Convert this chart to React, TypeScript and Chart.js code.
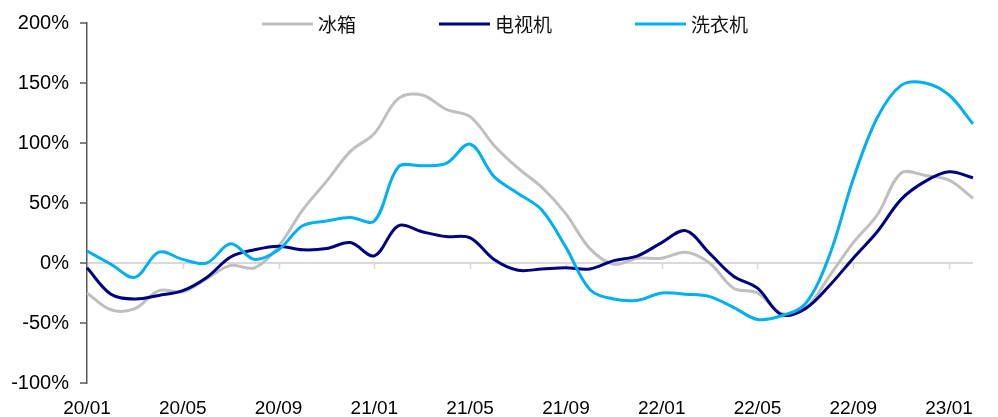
import { useEffect, useRef } from 'react';
import { Chart, registerables } from 'chart.js';

Chart.register(...registerables);

// Monthly categories, 2020/01 – 2023/02
const months = [
  '20/01', '20/02', '20/03', '20/04', '20/05', '20/06', '20/07', '20/08', '20/09', '20/10', '20/11', '20/12',
  '21/01', '21/02', '21/03', '21/04', '21/05', '21/06', '21/07', '21/08', '21/09', '21/10', '21/11', '21/12',
  '22/01', '22/02', '22/03', '22/04', '22/05', '22/06', '22/07', '22/08', '22/09', '22/10', '22/11', '22/12',
  '23/01', '23/02',
];

// Year-on-year change, %
const fridge = [
  -25, -39, -38, -23, -24, -13, -2, -4, 14, 44, 68, 93,
  108, 137, 140, 128, 122, 98, 79, 63, 41, 12, -1, 4,
  4, 9, 0, -21, -25, -42, -38, -11, 17, 40, 75, 73,
  69, 54,
];
const tv = [
  -4, -26, -30, -27, -23, -12, 5, 11, 14, 11, 12, 17,
  6, 31, 26, 22, 21, 3, -6, -5, -4, -5, 2, 6,
  17, 27, 8, -11, -21, -43, -38, -19, 4, 26, 53, 68,
  76, 71,
];
const washer = [
  10, -1, -12, 9, 3, 0, 16, 3, 11, 31, 35, 38,
  35, 80, 81, 83, 99, 72, 58, 44, 13, -22, -30, -31,
  -25, -26, -28, -37, -47, -44, -34, 6, 70, 121, 148, 150,
  140, 116,
];

const seriesNames = ['冰箱', '电视机', '洗衣机'];
const seriesColors = ['#BFBFBF', '#000080', '#00B0F0'];

const yMin = -100;
const yMax = 200;
const yStep = 50;
const labelEvery = 4;

const latinFont = '"Liberation Sans", Arial, sans-serif';
const cjkFont = '"Noto Sans CJK SC", sans-serif';

// Legend row drawn across the top of the plot
const topLegend = {
  id: 'topLegend',
  afterDraw(chart: any) {
    const ctx = chart.ctx as CanvasRenderingContext2D;
    const y = 24;
    const lineLen = 51;
    const gap = 5;
    const itemGap = 83;
    let x = 262;
    ctx.save();
    ctx.font = `19px ${cjkFont}`;
    ctx.textBaseline = 'middle';
    ctx.textAlign = 'left';
    chart.data.datasets.forEach((ds: any) => {
      ctx.strokeStyle = ds.borderColor;
      ctx.lineWidth = 3;
      ctx.lineCap = 'butt';
      ctx.beginPath();
      ctx.moveTo(x, y);
      ctx.lineTo(x + lineLen, y);
      ctx.stroke();
      ctx.fillStyle = '#111';
      ctx.fillText(ds.label, x + lineLen + gap, y + 1);
      x += lineLen + gap + ctx.measureText(ds.label).width + itemGap;
    });
    ctx.restore();
  },
};

// Short tick marks hanging below the zero line at each labelled month
const zeroAxisTicks = {
  id: 'zeroAxisTicks',
  beforeDatasetsDraw(chart: any) {
    const ctx = chart.ctx as CanvasRenderingContext2D;
    const xs = chart.scales.x;
    const y0 = chart.scales.y.getPixelForValue(0);
    ctx.save();
    ctx.strokeStyle = '#D9D9D9';
    ctx.lineWidth = 1.5;
    months.forEach((_, i) => {
      if (i % labelEvery !== 0 || i === 0) return;
      const px = Math.round(xs.getPixelForValue(i)) + 0.5;
      ctx.beginPath();
      ctx.moveTo(px, y0);
      ctx.lineTo(px, y0 + 6);
      ctx.stroke();
    });
    ctx.restore();
  },
};

export default function App() {
  const canvasRef = useRef<HTMLCanvasElement | null>(null);

  useEffect(() => {
    if (!canvasRef.current) return;
    const values = [fridge, tv, washer];
    const chart = new Chart(canvasRef.current, {
      type: 'line',
      data: {
        labels: months,
        datasets: values.map((data, i) => ({
          label: seriesNames[i],
          data,
          borderColor: seriesColors[i],
          backgroundColor: seriesColors[i],
          borderWidth: 3,
          pointRadius: 0,
          pointHoverRadius: 0,
          tension: 0.35,
          fill: false,
          order: 3 - i,
        })),
      },
      options: {
        animation: false,
        responsive: true,
        maintainAspectRatio: false,
        devicePixelRatio: 1,
        layout: { padding: { top: 20, right: 25, left: 0, bottom: 0 } },
        plugins: {
          legend: { display: false },
          tooltip: { enabled: false },
        },
        scales: {
          x: {
            type: 'category',
            offset: false,
            border: { display: false },
            grid: { display: false, drawTicks: false },
            ticks: {
              autoSkip: false,
              maxRotation: 0,
              minRotation: 0,
              padding: 14,
              color: '#000',
              font: { family: latinFont, size: 19 },
              callback: (_v: any, i: number) => (i % labelEvery === 0 ? months[i] : ''),
            },
            afterFit: (scale: any) => {
              scale.height = 34;
            },
          },
          y: {
            min: yMin,
            max: yMax,
            border: { display: true, color: '#595959', width: 1.5 },
            grid: {
              drawOnChartArea: true,
              drawTicks: true,
              tickLength: 7,
              tickColor: '#595959',
              tickWidth: 1.5,
              lineWidth: 2,
              color: (c: any) => (c.tick && c.tick.value === 0 ? '#D9D9D9' : 'rgba(0,0,0,0)'),
            },
            ticks: {
              stepSize: yStep,
              padding: 11,
              color: '#000',
              font: { family: latinFont, size: 20 },
              callback: (v: any) => `${v}%`,
            },
            afterFit: (scale: any) => {
              scale.width = 87;
            },
          },
        },
      },
      plugins: [zeroAxisTicks, topLegend],
    });
    return () => chart.destroy();
  }, []);

  return (
    <div style={{ position: 'absolute', left: 0, top: 0, width: 998, height: 417, background: '#fff' }}>
      <canvas ref={canvasRef} />
    </div>
  );
}
